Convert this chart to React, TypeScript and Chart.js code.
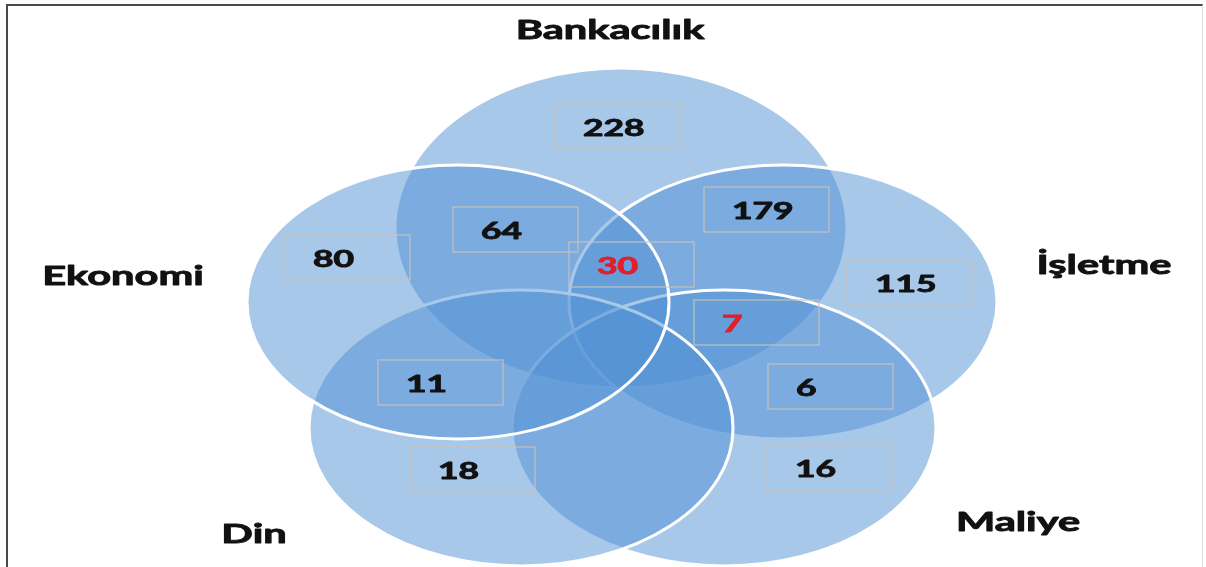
import React, { useEffect, useRef } from "react";
import { Chart, registerables } from "chart.js";

Chart.register(...registerables);

// Sets (drawing order: first is bottom-most layer)
const SET_NAMES = ["Bankacılık", "İşletme", "Maliye", "Din", "Ekonomi"];
const SET_CX = [621, 783, 724, 521, 458];
const SET_CY = [228, 302, 428, 428, 302];
const SET_RX = [226, 214, 212, 212, 211];
const SET_RY = [160, 137, 138, 138, 137];
const SET_LABEL_X = [610, 1104, 1018, 254, 123];
const SET_LABEL_Y = [30, 265, 522, 534, 276];

// Region counts
const REGION_VALUES = [228, 64, 80, 30, 179, 115, 7, 11, 6, 18, 16];
const REGION_BOX_LEFT = [555, 453, 285, 569, 704, 847, 694, 378, 768, 410, 767];
const REGION_BOX_TOP = [104, 207, 235, 242, 187, 260, 300, 360, 364, 447, 445];
const REGION_HIGHLIGHT = [false, false, false, true, false, false, true, false, false, false, false];

const W = 1206;
const H = 567;
const STRETCH = 1.54;
const BOX_W = 125;
const BOX_H = 45;

function drawStretchedText(ctx: any, text: string, x: number, y: number, font: string, color: string, align: string) {
  ctx.save();
  ctx.translate(x, y);
  ctx.scale(STRETCH, 1);
  ctx.font = font;
  ctx.textAlign = align;
  ctx.textBaseline = "middle";
  ctx.fillStyle = color;
  ctx.strokeStyle = color;
  ctx.lineWidth = 0.9;
  ctx.lineJoin = "round";
  ctx.fillText(text, 0, 0);
  ctx.strokeText(text, 0, 0);
  ctx.restore();
}

const vennPlugin = {
  id: "venn",
  beforeDatasetsDraw(chart: any) {
    const ctx = chart.ctx;
    const xs = chart.scales.x;
    const ys = chart.scales.y;
    const meta = chart.getDatasetMeta(0);
    ctx.save();
    meta.data.forEach((pt: any, i: number) => {
      const px = pt.x;
      const py = pt.y;
      const rx = Math.abs(xs.getPixelForValue(SET_CX[i] + SET_RX[i]) - px);
      const ry = Math.abs(ys.getPixelForValue(SET_CY[i] + SET_RY[i]) - py);
      ctx.beginPath();
      ctx.ellipse(px, py, rx, ry, 0, 0, Math.PI * 2);
      ctx.fillStyle = "rgba(81,145,213,0.5)";
      ctx.fill();
      ctx.lineWidth = 3;
      ctx.strokeStyle = "#ffffff";
      ctx.stroke();
    });
    ctx.restore();
  },
  afterDatasetsDraw(chart: any) {
    const ctx = chart.ctx;
    const xs = chart.scales.x;
    const ys = chart.scales.y;
    ctx.save();
    // region boxes + values
    REGION_VALUES.forEach((v, i) => {
      const l = xs.getPixelForValue(REGION_BOX_LEFT[i]);
      const t = ys.getPixelForValue(REGION_BOX_TOP[i]);
      const r = xs.getPixelForValue(REGION_BOX_LEFT[i] + BOX_W);
      const b = ys.getPixelForValue(REGION_BOX_TOP[i] + BOX_H);
      ctx.lineWidth = 1.5;
      ctx.strokeStyle = "rgba(200,192,185,0.75)";
      ctx.strokeRect(l, t, r - l, b - t);
      drawStretchedText(ctx, String(v), l + 28, t + 25, "bold 23px Lato", REGION_HIGHLIGHT[i] ? "#e41e2b" : "#111111", "left");
    });
    // set labels
    SET_NAMES.forEach((name, i) => {
      const x = xs.getPixelForValue(SET_LABEL_X[i]);
      const y = ys.getPixelForValue(SET_LABEL_Y[i]);
      drawStretchedText(ctx, name, x, y, "bold 27px Lato", "#111111", "center");
    });
    ctx.restore();
  },
};

export default function App() {
  const ref = useRef<HTMLCanvasElement | null>(null);
  useEffect(() => {
    if (!ref.current) return;
    const chart = new Chart(ref.current, {
      type: "scatter",
      data: {
        datasets: [
          {
            label: "Kümeler",
            data: SET_CX.map((x, i) => ({ x, y: SET_CY[i] })),
            pointRadius: 0,
            pointHoverRadius: 0,
            showLine: false,
          },
        ],
      },
      options: {
        animation: false,
        responsive: false,
        devicePixelRatio: 1,
        layout: { padding: 0 },
        plugins: { legend: { display: false }, tooltip: { enabled: false } },
        events: [],
        scales: {
          x: { type: "linear", min: 0, max: W, display: false },
          y: { type: "linear", min: 0, max: H, reverse: true, display: false },
        },
      },
      plugins: [vennPlugin],
    });
    return () => chart.destroy();
  }, []);
  return (
    <div style={{ position: "fixed", left: 0, top: 0, width: W, height: H, background: "#fff", overflow: "hidden" }}>
      <canvas ref={ref} width={W} height={H} style={{ position: "absolute", left: 0, top: 0 }} />
      <div
        style={{
          position: "absolute",
          left: 6,
          top: 4,
          width: W - 6 - 3,
          height: H + 10,
          borderTop: "2px solid #4a4a4a",
          borderLeft: "2px solid #4a4a4a",
          borderRight: "1px solid #dcdcdc",
          boxSizing: "border-box",
          pointerEvents: "none",
        }}
      />
    </div>
  );
}
